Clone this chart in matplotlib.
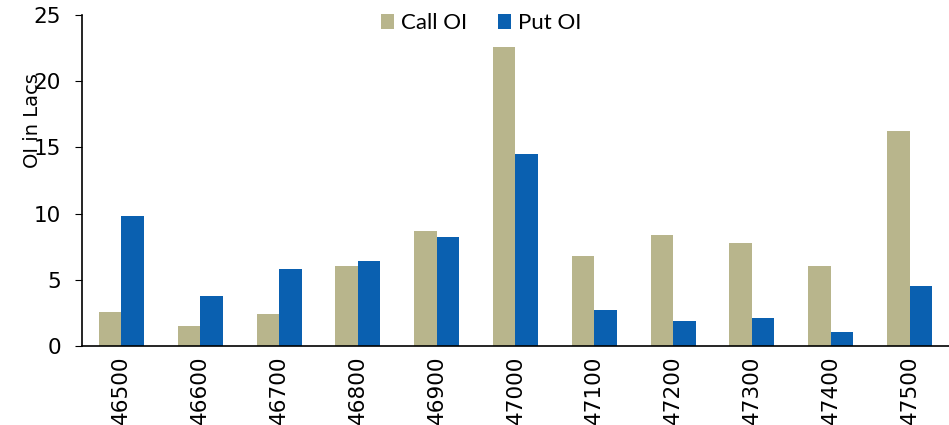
import numpy as np
import matplotlib.pyplot as plt

# strike prices and open interest (in lacs)
strikes = ['46500', '46600', '46700', '46800', '46900', '47000',
           '47100', '47200', '47300', '47400', '47500']
call_oi = [2.6, 1.5, 2.4, 6.0, 8.7, 22.6, 6.8, 8.4, 7.8, 6.0, 16.2]
put_oi = [9.8, 3.8, 5.8, 6.4, 8.2, 14.5, 2.7, 1.9, 2.1, 1.05, 4.5]

call_color = '#B8B58C'
put_color = '#0A60B0'

fig = plt.figure(figsize=(9.49, 4.25), dpi=100)
ax = fig.add_axes([0.0864, 0.186, 0.9136, 0.779])

x = np.arange(len(strikes))
w = 0.285
ax.bar(x - w / 2, call_oi, w, color=call_color, label='Call OI')
ax.bar(x + w / 2, put_oi, w, color=put_color, label='Put OI')

ax.set_xlim(-0.5, len(strikes) - 0.5)
ax.set_ylim(0, 25)
ax.set_yticks([0, 5, 10, 15, 20, 25])
ax.set_xticks(x)
ax.set_xticklabels(strikes, rotation=90)
ax.tick_params(axis='x', length=0, labelsize=15.5, pad=7)
ax.tick_params(axis='y', length=5, labelsize=15.5, pad=10)

for s in ['top', 'right']:
    ax.spines[s].set_visible(False)
ax.spines['left'].set_linewidth(1.2)
ax.spines['bottom'].set_linewidth(1.2)

# label sits over the tick labels, as in the original
ax.set_ylabel('OI in Lacs', fontsize=14)
ax.yaxis.set_label_coords(-0.046, 0.68)

ax.legend(loc='upper center', bbox_to_anchor=(0.46, 1.065), ncol=2, frameon=False,
          prop={'family': 'Lato', 'size': 16}, handlelength=0.6, handleheight=0.6,
          handletextpad=0.3, columnspacing=1.4)

fig.savefig('out.png', dpi=100)
